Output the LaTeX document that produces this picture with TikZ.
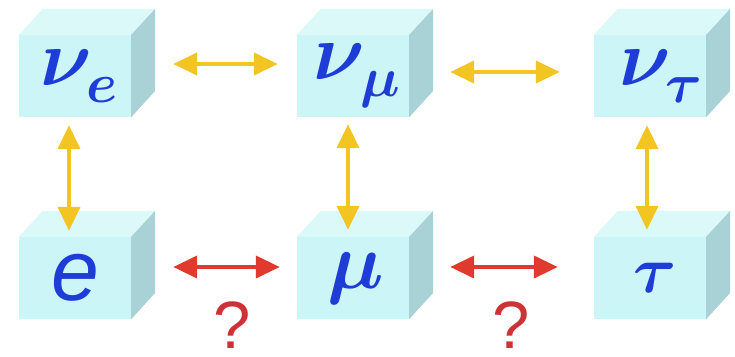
\RequirePackage{fix-cm}
\documentclass[tikz,border=0pt]{standalone}
\usepackage{bm}
\usepackage{fontspec}
\newfontfamily\arialfont{Liberation Sans}
\usetikzlibrary{arrows.meta,calc}
\definecolor{cubefront}{HTML}{CCF5F7}
\definecolor{cubetopc}{HTML}{DCF9FA}
\definecolor{cubesidec}{HTML}{A8D2D5}
\definecolor{labelblue}{HTML}{1E3CD6}
\definecolor{mixyellow}{HTML}{F2C523}
\definecolor{mixred}{HTML}{E03A2E}
\definecolor{askred}{HTML}{CC3236}
\newcommand{\nulab}[2]{\hspace*{#2}\raisebox{-6pt}{\fontsize{80}{80}\selectfont$\bm{\nu}_{\raisebox{-5pt}{$\scriptstyle\bm{#1}$}}$}}
\tikzset{
  cube/.style={
    rectangle,
    fill=cubefront,
    minimum width=112pt,
    minimum height=82pt,
    inner sep=0pt,
    text=labelblue
  },
  cubetop/.style={fill=cubetopc},
  cubeside/.style={fill=cubesidec},
  nuline/.style={
    {Triangle[length=24pt,width=22pt]}-{Triangle[length=24pt,width=22pt]},
    line width=4pt,
    draw=mixyellow
  },
  lepline/.style={
    {Triangle[length=24pt,width=22pt]}-{Triangle[length=24pt,width=22pt]},
    line width=4pt,
    draw=mixred
  },
  ask/.style={
    inner sep=0pt,
    text=askred,
    font=\arialfont\fontsize{67}{67}\selectfont
  }
}

\begin{document}
\begin{tikzpicture}[x=1pt,y=-1pt]
  \useasboundingbox (0,0) rectangle (735,356);
  \node[cube] (ve) at (75,76) {\nulab{e}{8pt}};
  \node[cube] (vm) at (353,76) {\nulab{\mu}{8pt}};
  \node[cube] (vt) at (650,76) {\nulab{\tau}{22pt}};
  \node[cube] (e) at (75,278) {\raisebox{-11pt}{\arialfont\itshape\fontsize{86}{86}\selectfont e}};
  \node[cube] (mu) at (353,278) {\hspace*{6pt}\fontsize{80}{80}\selectfont$\bm{\mu}$};
  \node[cube] (tau) at (650,278) {\hspace*{10pt}\raisebox{-12pt}{\fontsize{66}{66}\selectfont$\bm{\tau}$}};
  \foreach \n in {ve,vm,vt,e,mu,tau} {
    \fill[cubetop] (\n.north west) -- ++(24,-26) -- ($(\n.north east)+(24,-26)$) -- (\n.north east) -- cycle;
    \fill[cubeside] (\n.north east) -- ++(24,-26) -- ++(0,82) -- (\n.south east) -- cycle;
  }
  \draw[nuline, shorten <=42pt, shorten >=19pt] ([yshift=12pt]ve.east) -- ([yshift=12pt]vm.west);
  \draw[nuline, shorten <=41pt, shorten >=34pt] ([yshift=4pt]vm.east) -- ([yshift=4pt]vt.west);
  \draw[nuline, shorten <=8pt, shorten >=6pt] ([xshift=-6pt]ve.south) -- ([xshift=-6pt]e.north);
  \draw[nuline, shorten <=7pt, shorten >=7pt] ([xshift=-5pt]vm.south) -- ([xshift=-5pt]mu.north);
  \draw[nuline, shorten <=8pt, shorten >=7pt] ([xshift=-3pt]vt.south) -- ([xshift=-3pt]tau.north);
  \draw[lepline, shorten <=42pt, shorten >=17pt] ([yshift=11pt]e.east) -- ([yshift=11pt]mu.west);
  \draw[lepline, shorten <=41pt, shorten >=36pt] ([yshift=11pt]mu.east) -- ([yshift=11pt]tau.west);
  \node[ask] (q1) at (232,325) {?};
  \node[ask] (q2) at (511,325) {?};
\end{tikzpicture}
\end{document}
